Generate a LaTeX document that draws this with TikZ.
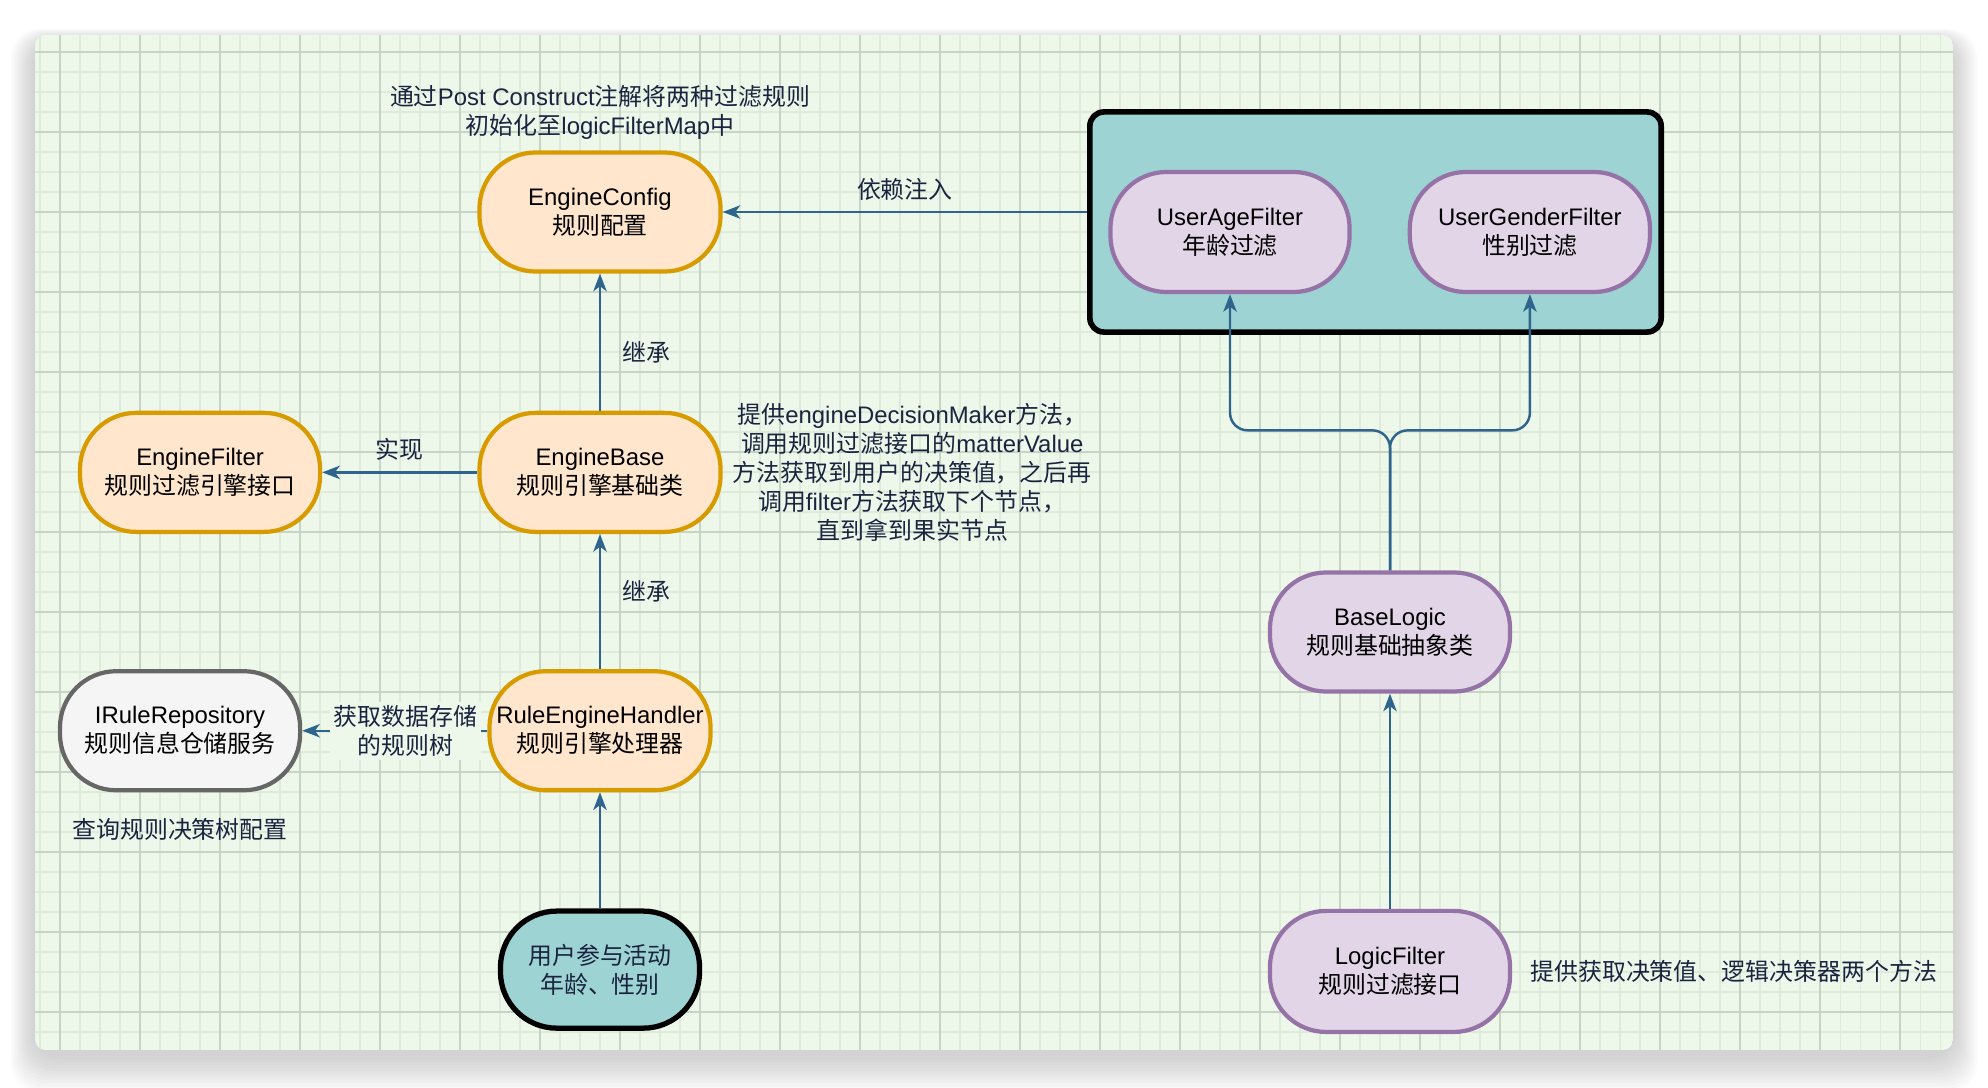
\documentclass[tikz,border=0pt]{standalone}
\usepackage{fontspec}
\setmainfont{Liberation Sans}
\newfontfamily\latfont{Liberation Sans}
\newfontfamily\cjkfont{Noto Sans CJK SC}
% switch to the CJK face for Chinese characters
\XeTeXinterchartokenstate=1
\newXeTeXintercharclass\cjkclass
\count255="2E80
\loop\ifnum\count255<"A000 \XeTeXcharclass\count255=\cjkclass \advance\count255 by 1 \repeat
\count255="FF00
\loop\ifnum\count255<"FFF0 \XeTeXcharclass\count255=\cjkclass \advance\count255 by 1 \repeat
\XeTeXinterchartoks 0 \cjkclass={\cjkfont}
\XeTeXinterchartoks 4095 \cjkclass={\cjkfont}
\XeTeXinterchartoks \cjkclass 0={\latfont}
\XeTeXinterchartoks 4095 0={\latfont}

\usepackage{tikz}
\usetikzlibrary{arrows.meta,positioning,calc}

\definecolor{bgcol}{RGB}{238,248,234}
\definecolor{gridminor}{RGB}{222,235,219}
\definecolor{gridmajor}{RGB}{198,212,197}
\definecolor{cfgfill}{HTML}{FFE6CC}
\definecolor{cfgline}{HTML}{D79B00}
\definecolor{logicfill}{HTML}{E1D5E7}
\definecolor{logicline}{HTML}{9673A6}
\definecolor{repofill}{HTML}{F5F5F5}
\definecolor{repoline}{HTML}{666666}
\definecolor{userfill}{RGB}{158,211,212}
\definecolor{arrcol}{RGB}{47,101,140}
\definecolor{notecol}{RGB}{26,36,64}

\newcommand\dfont{\fontsize{6.8pt}{8.25pt}\selectfont}

\tikzset{
  cfgnode/.style={rectangle,rounded corners=16pt,fill=cfgfill,draw=cfgline,line width=1.2pt,
    minimum width=2.41cm,minimum height=1.19cm,align=center,font=\dfont,inner sep=1pt},
  logicnode/.style={cfgnode,fill=logicfill,draw=logicline},
  reponode/.style={cfgnode,fill=repofill,draw=repoline},
  usernode/.style={cfgnode,fill=userfill,draw=black,line width=1.5pt,text=notecol,
    minimum width=1.99cm,minimum height=1.17cm},
  boxnode/.style={rectangle,rounded corners=4pt,fill=userfill,draw=black,line width=1.6pt},
  notetext/.style={align=center,font=\dfont,text=notecol,inner sep=1pt},
  lbl/.style={font=\dfont,text=notecol,inner sep=3pt},
  arr/.style={-{Stealth[length=5pt,width=3.8pt,inset=1.4pt]},line width=0.7pt,draw=arrcol}
}

\begin{document}
\begin{tikzpicture}[x=0.01cm,y=-0.01cm]
  \useasboundingbox (0,0) rectangle (1988,1088);

  % canvas with shadow and grid
  \foreach \i in {1,...,12}
    \fill[black,opacity=0.016,rounded corners=8pt]
      ($(35,41)+(-2*\i,-\i)$) rectangle ($(1953,1056)+(2*\i,3*\i)$);
  \begin{scope}
    \clip[rounded corners=3pt] (35,35) rectangle (1953,1050);
    \fill[bgcol] (35,35) rectangle (1953,1050);
    \foreach \gx in {40,60,...,1940} \draw[gridminor,line width=0.3pt] (\gx,35) -- (\gx,1050);
    \foreach \gy in {52,72,...,1040} \draw[gridminor,line width=0.3pt] (35,\gy) -- (1953,\gy);
    \foreach \gx in {60,140,...,1940} \draw[gridmajor,line width=0.4pt] (\gx,35) -- (\gx,1050);
    \foreach \gy in {52,132,...,1040} \draw[gridmajor,line width=0.4pt] (35,\gy) -- (1953,\gy);
  \end{scope}

  % engine side
  \node[cfgnode] (cfg) at (600,212) {EngineConfig\\规则配置};
  \node[cfgnode,below=1.37cm of cfg] (base) {EngineBase\\规则引擎基础类};
  \node[cfgnode,left=1.55cm of base,minimum width=2.40cm] (efilter) {EngineFilter\\规则过滤引擎接口};
  \node[cfgnode,below=1.35cm of base,minimum width=2.21cm] (handler) {RuleEngineHandler\\规则引擎处理器};
  \node[reponode,left=1.85cm of handler,minimum width=2.40cm] (repo) {IRuleRepository\\规则信息仓储服务};
  \node[usernode,below=1.16cm of handler] (user) {用户参与活动\\年龄、性别};

  \node[notetext] (initnote) at (600,112) {通过Post Construct注解将两种过滤规则\\初始化至logicFilterMap中};
  \node[notetext,right=0.06cm of base] (decnote)
    {提供engineDecisionMaker方法，\\调用规则过滤接口的matterValue\\方法获取到用户的决策值，之后再\\调用filter方法获取下个节点，\\直到拿到果实节点};
  \node[notetext,below=0.22cm of repo] (reponote) {查询规则决策树配置};

  \draw[arr] (base) -- (cfg) node[midway,right,lbl,xshift=3pt,yshift=-3pt] {继承};
  \draw[arr] (handler) -- (base) node[midway,right,lbl,xshift=3pt,yshift=3pt] {继承};
  \draw[arr] (base) -- (efilter) node[midway,above,lbl] {实现};
  \draw[arr] (handler) -- (repo) node[midway,lbl,fill=bgcol,align=center,inner sep=1pt,xshift=3pt] {获取数据存储\\的规则树};
  \draw[arr] (user) -- (handler);

  % logic filter side
  \node[boxnode,minimum width=5.71cm,minimum height=2.20cm] (filters) at (1375.5,222) {};
  \node[logicnode,minimum width=2.39cm,minimum height=1.20cm] (age) at (1230,232) {UserAgeFilter\\年龄过滤};
  \node[logicnode,right=0.56cm of age,minimum width=2.40cm,minimum height=1.20cm] (gender) {UserGenderFilter\\性别过滤};
  \node[logicnode,minimum width=2.40cm] (blogic) at (1390,632) {BaseLogic\\规则基础抽象类};
  \node[logicnode,below=2.15cm of blogic,minimum width=2.40cm,minimum height=1.21cm] (lfilter) {LogicFilter\\规则过滤接口};
  \node[notetext,right=0.14cm of lfilter] (lnote) {提供获取决策值、逻辑决策器两个方法};

  \draw[arr] (filters.west |- cfg.east) -- (cfg.east) node[midway,above,lbl] {依赖注入};
  \draw[arr] (lfilter) -- (blogic);
  \draw[arr,rounded corners=5pt] (blogic.north) -- ++(0,-140) -| (age.south);
  \draw[arr,rounded corners=5pt] (blogic.north) -- ++(0,-140) -| (gender.south);

\end{tikzpicture}
\end{document}
